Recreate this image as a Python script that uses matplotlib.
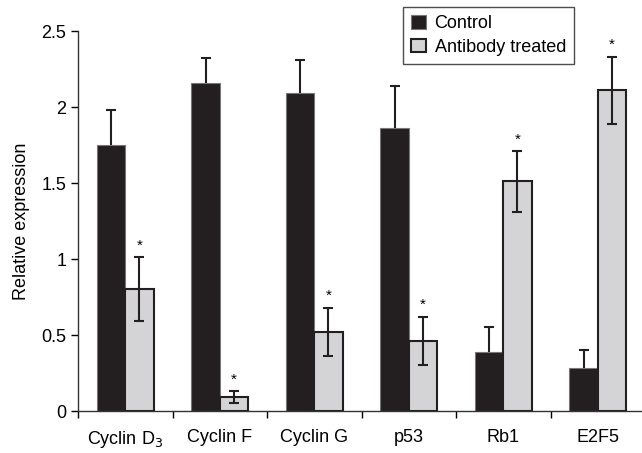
import numpy as np
import matplotlib
matplotlib.use("Agg")
import matplotlib.pyplot as plt

plt.rcParams["font.family"] = ["Liberation Sans", "DejaVu Sans"]

genes = ["Cyclin D$_3$", "Cyclin F", "Cyclin G", "p53", "Rb1", "E2F5"]
control = [1.75, 2.16, 2.09, 1.86, 0.39, 0.28]
control_err = [0.23, 0.16, 0.22, 0.28, 0.16, 0.12]
treated = [0.80, 0.09, 0.52, 0.46, 1.51, 2.11]
treated_err = [0.21, 0.04, 0.16, 0.16, 0.20, 0.22]

FS = 13

fig = plt.figure(figsize=(6.42, 4.53), dpi=100)
ax = fig.add_axes([78 / 642, 42 / 453, 567 / 642, 380 / 453])

x = np.arange(len(genes)) + 0.5
w = 0.3
xc = x - w / 2
xt = x + w / 2

ax.bar(xc, control, w, color="#231f20", edgecolor="#777777", linewidth=0.8,
       label="Control", zorder=2)
# control: upper error only, single cap on top
ctop = np.array(control) + np.array(control_err)
ax.vlines(xc, control, ctop, color="#231f20", linewidth=1.5, zorder=3)
ax.plot(xc, ctop, linestyle="none", marker="_", markersize=7, markeredgewidth=1.5,
        color="#231f20", zorder=3)

ax.bar(xt, treated, w, color="#d4d4d6", edgecolor="#231f20", linewidth=1.5,
       label="Antibody treated", zorder=2)
ax.errorbar(xt, treated, yerr=treated_err,
            fmt="none", ecolor="#231f20", elinewidth=1.5, capsize=3.5, capthick=1.5, zorder=3)

for xi, v, e in zip(xt, treated, treated_err):
    ax.text(xi, v + e + 0.03, "*", ha="center", va="bottom", fontsize=11)

ax.set_xlim(0, 6)
ax.set_ylim(0, 2.5)
ax.set_yticks([0, 0.5, 1, 1.5, 2, 2.5])
ax.set_yticklabels(["0", "0.5", "1", "1.5", "2", "2.5"])
ax.set_xticks(x)
ax.set_xticklabels(genes)
ax.set_xticks(np.arange(0, 6), minor=True)
ax.tick_params(axis="x", which="major", length=0, pad=13, labelsize=FS)
ax.tick_params(axis="x", which="minor", length=5, width=1, direction="out")
ax.tick_params(axis="y", length=5, width=1, labelsize=FS)
ax.set_ylabel("Relative expression", fontsize=FS, labelpad=8)

for s in ["top", "right"]:
    ax.spines[s].set_visible(False)
for s in ["left", "bottom"]:
    ax.spines[s].set_linewidth(1)
    ax.spines[s].set_color("#333333")

leg = ax.legend(loc="upper left", bbox_to_anchor=(403 / 642, 1 - 7 / 453),
                bbox_transform=fig.transFigure, borderaxespad=0, frameon=True,
                fancybox=False, edgecolor="#231f20", fontsize=FS,
                handlelength=0.8, handleheight=0.8, handletextpad=0.5,
                labelspacing=0.35, borderpad=0.45)
leg.get_frame().set_linewidth(1)

fig.savefig("out.png", dpi=100)
